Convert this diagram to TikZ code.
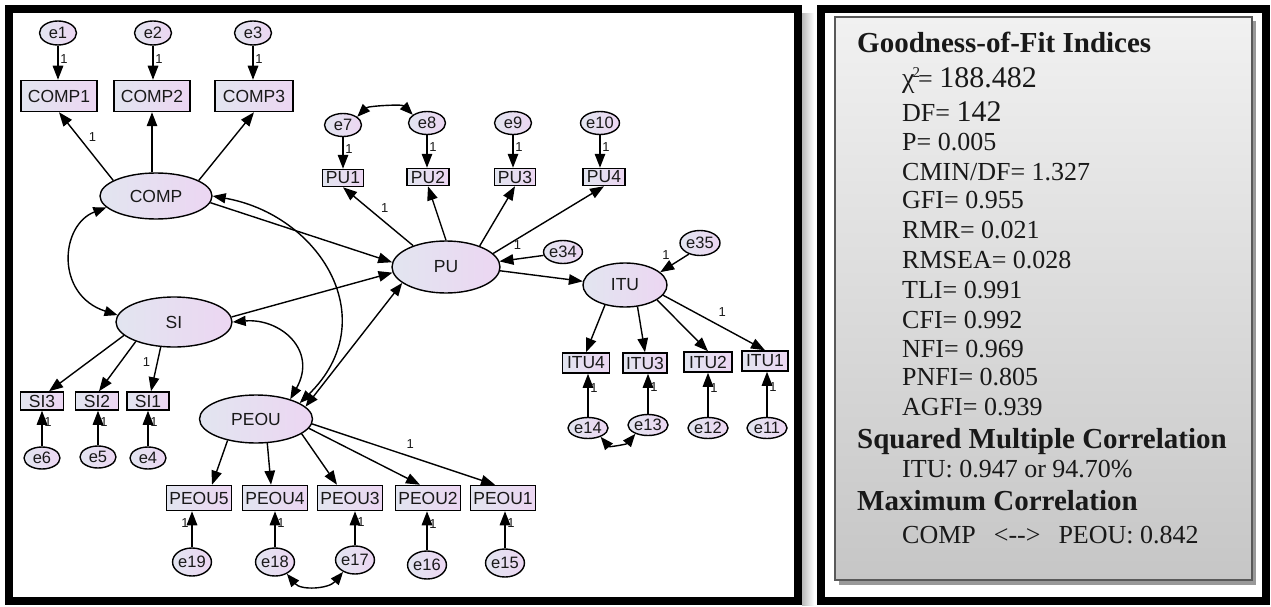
\documentclass[tikz,border=0pt]{standalone}
\usepackage{fontspec}
\setmainfont{Liberation Serif}
\setsansfont{Liberation Sans}
\usetikzlibrary{arrows.meta,shapes.geometric}
\newcommand\fsz[1]{\fontsize{#1}{#1}\selectfont}
\definecolor{latL}{RGB}{226,229,240}
\definecolor{latR}{RGB}{236,214,242}
\definecolor{txt}{RGB}{25,25,25}
\definecolor{boxtop}{RGB}{241,241,241}
\definecolor{boxbot}{RGB}{198,198,198}
\tikzset{
 lat/.style={ellipse, draw, line width=1.4pt, left color=latL, right color=latR, inner sep=0pt, font=\sffamily\fsz{17.5}, text=txt},
 obs/.style={rectangle, draw, line width=1.5pt, left color=latL, right color=latR, inner sep=0pt, font=\sffamily\fsz{17.5}, text=txt},
 err/.style={ellipse, draw, line width=1.4pt, left color=latL, right color=latR, inner sep=0pt, font=\sffamily\fsz{16.5}, text=txt},
 arr/.style={-{Triangle[length=14pt,width=10.5pt]}, line width=1.4pt},
 cov/.style={{Triangle[length=13pt,width=10pt]}-{Triangle[length=13pt,width=10pt]}, line width=1.4pt},
 lbl/.style={font=\sffamily\fsz{13}, inner sep=0pt, text=txt},
 fitln/.style={anchor=base west, inner sep=0pt, font=\fsz{26}, text=black!90},
 hdr/.style={anchor=base west, inner sep=0pt, font=\bfseries\fsz{29}, text=black!90},
}
\begin{document}
\begin{tikzpicture}[x=1pt,y=-1pt]
\useasboundingbox (0,0) rectangle (1271,607);
% panels
\shade[left color=gray!55, right color=white] (802,14) rectangle (814,605);
\draw[line width=8pt] (9,9) rectangle (798,601);
\fill[black!40] (839,21) rectangle (1256,585);
\draw[line width=1.5pt, draw=black!65, top color=boxtop, bottom color=boxbot] (835,17) rectangle (1252,580);
\draw[line width=8pt] (821,9) rectangle (1266,601);

% latent variables
\node[lat, minimum width=112pt, minimum height=46pt] (COMP) at (156,196) {COMP};
\node[lat, minimum width=116pt, minimum height=50pt] (SI) at (174,322) {SI};
\node[lat, minimum width=108pt, minimum height=52pt] (PU) at (446,267) {PU};
\node[lat, minimum width=113pt, minimum height=48pt] (PEOU) at (256,419) {PEOU};
\node[lat, minimum width=84pt, minimum height=44pt] (ITU) at (625,285) {ITU};

% observed variables
\node[obs, minimum width=76pt, minimum height=31pt] (COMP1) at (59,96) {COMP1};
\node[obs, minimum width=76pt, minimum height=31pt] (COMP2) at (152,96) {COMP2};
\node[obs, minimum width=78pt, minimum height=31pt] (COMP3) at (254,96) {COMP3};
\node[obs, minimum width=41pt, minimum height=17pt] (PU1) at (343,178) {PU1};
\node[obs, minimum width=42pt, minimum height=17pt] (PU2) at (428,177) {PU2};
\node[obs, minimum width=41pt, minimum height=17pt] (PU3) at (515,177) {PU3};
\node[obs, minimum width=42pt, minimum height=17pt] (PU4) at (604,177) {PU4};
\node[obs, minimum width=47pt, minimum height=20pt] (ITU4) at (586,363) {ITU4};
\node[obs, minimum width=44pt, minimum height=20pt] (ITU3) at (645,363) {ITU3};
\node[obs, minimum width=48pt, minimum height=20pt] (ITU2) at (708,362) {ITU2};
\node[obs, minimum width=46pt, minimum height=20pt] (ITU1) at (765,361) {ITU1};
\node[obs, minimum width=43pt, minimum height=18pt] (SI3) at (42,401) {SI3};
\node[obs, minimum width=43pt, minimum height=18pt] (SI2) at (97,401) {SI2};
\node[obs, minimum width=42pt, minimum height=18pt] (SI1) at (148,401) {SI1};
\node[obs, minimum width=65pt, minimum height=25pt] (PEOU5) at (199,498) {PEOU5};
\node[obs, minimum width=65pt, minimum height=25pt] (PEOU4) at (275,498) {PEOU4};
\node[obs, minimum width=65pt, minimum height=25pt] (PEOU3) at (350,498) {PEOU3};
\node[obs, minimum width=65pt, minimum height=25pt] (PEOU2) at (428,498) {PEOU2};
\node[obs, minimum width=65pt, minimum height=25pt] (PEOU1) at (503,498) {PEOU1};

% error terms
\node[err, minimum width=37pt, minimum height=24pt] (e1) at (58,33) {e1};
\node[err, minimum width=37pt, minimum height=24pt] (e2) at (153,33) {e2};
\node[err, minimum width=37pt, minimum height=24pt] (e3) at (253,33) {e3};
\node[err, minimum width=37pt, minimum height=23pt] (e7) at (343,125) {e7};
\node[err, minimum width=37pt, minimum height=23pt] (e8) at (427,123) {e8};
\node[err, minimum width=37pt, minimum height=23pt] (e9) at (513,123) {e9};
\node[err, minimum width=37pt, minimum height=23pt] (e10) at (600,123) {e10};
\node[err, minimum width=36pt, minimum height=23pt] (e34) at (563,252) {e34};
\node[err, minimum width=40pt, minimum height=25pt] (e35) at (700,243) {e35};
\node[err, minimum width=40pt, minimum height=21pt] (e14) at (588,428) {e14};
\node[err, minimum width=40pt, minimum height=21pt] (e13) at (648,425) {e13};
\node[err, minimum width=40pt, minimum height=21pt] (e12) at (708,428) {e12};
\node[err, minimum width=40pt, minimum height=21pt] (e11) at (767,428) {e11};
\node[err, minimum width=36pt, minimum height=22pt] (e6) at (42,458) {e6};
\node[err, minimum width=36pt, minimum height=22pt] (e5) at (98,457) {e5};
\node[err, minimum width=36pt, minimum height=22pt] (e4) at (148,458) {e4};
\node[err, minimum width=38pt, minimum height=28pt] (e19) at (192,562) {e19};
\node[err, minimum width=38pt, minimum height=28pt] (e18) at (275,562) {e18};
\node[err, minimum width=38pt, minimum height=28pt] (e17) at (355,560) {e17};
\node[err, minimum width=38pt, minimum height=28pt] (e16) at (427,565) {e16};
\node[err, minimum width=38pt, minimum height=28pt] (e15) at (505,563) {e15};

% COMP measurement
\draw[arr] (COMP.160) -- (COMP1.south) node[lbl,pos=0.63,xshift=13.5pt] (lc1) {1};
\draw[arr] (COMP2.south |- COMP.north) -- (COMP2.south);
\draw[arr] (COMP.20) -- (COMP3.south);
\draw[arr] (e1.south) -- (e1.south |- COMP1.north) node[lbl,pos=0.4,xshift=6pt] (le1) {1};
\draw[arr] (e2.south) -- (e2.south |- COMP2.north) node[lbl,pos=0.4,xshift=6pt] (le2) {1};
\draw[arr] (e3.south) -- (e3.south |- COMP3.north) node[lbl,pos=0.4,xshift=6pt] (le3) {1};

% PU measurement
\draw[arr] (PU.147) -- (PU1.south) node[lbl,pos=0.64,xshift=16.5pt] (lp1) {1};
\draw[arr] (PU.north) -- (PU2.south);
\draw[arr] (PU.32) -- (PU3.south);
\draw[arr] (PU.16) -- (PU4.south);
\draw[arr] (e7.south) -- (e7.south |- PU1.north) node[lbl,pos=0.36,xshift=6pt] (le7) {1};
\draw[arr] (e8.south) -- (e8.south |- PU2.north) node[lbl,pos=0.36,xshift=6pt] (le8) {1};
\draw[arr] (e9.south) -- (e9.south |- PU3.north) node[lbl,pos=0.36,xshift=6pt] (le9) {1};
\draw[arr] (e10.south) -- (e10.south |- PU4.north) node[lbl,pos=0.36,xshift=6pt] (le10) {1};
\draw[cov] (e7.30) to[out=45,in=135,looseness=0.7] (e8.150);
\draw[arr] (e34.190) -- (PU.6) node[lbl,pos=0.59,yshift=13.8pt] (l34) {1};

% ITU
\draw[arr] (PU.-4) -- (ITU.175);
\draw[arr] (e35.225) -- (ITU.20) node[lbl,pos=0.8,yshift=14pt] (l35) {1};
\draw[arr] (ITU.-135) -- (ITU4.north);
\draw[arr] (ITU.-60) -- (ITU3.north);
\draw[arr] (ITU.-25) -- (ITU2.north);
\draw[arr] (ITU.-15) -- (ITU1.north) node[lbl,pos=0.58,yshift=15.5pt] (li1) {1};
\draw[arr] (e14.north) -- (e14.north |- ITU4.south) node[lbl,pos=0.66,xshift=6pt] (le14) {1};
\draw[arr] (e13.north) -- (e13.north |- ITU3.south) node[lbl,pos=0.66,xshift=6pt] (le13) {1};
\draw[arr] (e12.north) -- (e12.north |- ITU2.south) node[lbl,pos=0.66,xshift=6pt] (le12) {1};
\draw[arr] (e11.north) -- (e11.north |- ITU1.south) node[lbl,pos=0.66,xshift=6pt] (le11) {1};
\draw[cov] (e14.-35) to[out=-50,in=-130] (e13.-145);

% SI measurement
\draw[arr] (SI.195) -- ([xshift=7pt]SI3.north);
\draw[arr] (SI.207) -- ([xshift=2pt]SI2.north);
\draw[arr] (SI.-118) -- ([xshift=3pt]SI1.north) node[lbl,pos=0.34,xshift=-11pt] (ls1) {1};
\draw[arr] (e6.north) -- (e6.north |- SI3.south) node[lbl,pos=0.68,xshift=6pt] (le6) {1};
\draw[arr] (e5.north) -- (e5.north |- SI2.south) node[lbl,pos=0.68,xshift=6pt] (le5) {1};
\draw[arr] (e4.north) -- (e4.north |- SI1.south) node[lbl,pos=0.68,xshift=6pt] (le4) {1};

% PEOU measurement
\draw[arr] (PEOU.-143) -- ([xshift=13pt]PEOU5.north);
\draw[arr] (PEOU.-65) -- ([xshift=-4pt]PEOU4.north);
\draw[arr] (PEOU.-18) -- ([xshift=-13pt]PEOU3.north);
\draw[arr] (PEOU.-10) -- ([xshift=-8pt]PEOU2.north);
\draw[arr] (PEOU.-5) -- ([xshift=-8pt]PEOU1.north) node[lbl,pos=0.536,yshift=12pt] (lpe1) {1};
\draw[arr] (e19.north) -- (e19.north |- PEOU5.south) node[lbl,pos=0.68,xshift=-7pt] (le19) {1};
\draw[arr] (e18.north) -- (e18.north |- PEOU4.south) node[lbl,pos=0.68,xshift=6pt] (le18) {1};
\draw[arr] (e17.north) -- (e17.north |- PEOU3.south) node[lbl,pos=0.68,xshift=6pt] (le17) {1};
\draw[arr] (e16.north) -- (e16.north |- PEOU2.south) node[lbl,pos=0.68,xshift=6pt] (le16) {1};
\draw[arr] (e15.north) -- (e15.north |- PEOU1.south) node[lbl,pos=0.68,xshift=6pt] (le15) {1};
\draw[cov] (e18.-45) to[out=-50,in=-130] (e17.-135);

% structural part
\draw[arr] (COMP.-7) -- (PU.175);
\draw[arr] (SI.5) -- (PU.186);
\draw[cov] (PEOU.14) -- (PU.200);
\draw[cov] (COMP.193) .. controls (60,225) and (55,295) .. (SI.173);
\draw[cov] (COMP.east) .. controls (320,215) and (385,320) .. (PEOU.20);
\draw[cov] (SI.east) .. controls (280,318) and (318,350) .. (PEOU.30);

% fit indices
\node[hdr] (g1) at (857,53) {Goodness-of-Fit Indices};
\node[fitln] (g2) at (902,88) {{\fsz{28}χ}\kern-2pt\raisebox{10pt}{\fsz{15}2}\kern-2pt= {\fsz{30}188.482}};
\node[fitln] (g3) at (902,122) {DF= {\fsz{30}142}};
\node[fitln] (g4) at (902,150) {P= 0.005};
\node[fitln] (g5) at (902,180) {CMIN/DF= 1.327};
\node[fitln] (g6) at (902,208) {GFI= 0.955};
\node[fitln] (g7) at (902,238) {RMR= 0.021};
\node[fitln] (g8) at (902,268) {RMSEA= 0.028};
\node[fitln] (g9) at (902,298) {TLI= 0.991};
\node[fitln] (g10) at (902,328) {CFI= 0.992};
\node[fitln] (g11) at (902,357) {NFI= 0.969};
\node[fitln] (g12) at (902,385) {PNFI= 0.805};
\node[fitln] (g13) at (902,415) {AGFI= 0.939};
\node[hdr] (g14) at (857,448) {Squared Multiple Correlation};
\node[fitln] (g15) at (902,477) {ITU: 0.947 or 94.70\%};
\node[hdr] (g16) at (857,510) {Maximum Correlation};
\node[fitln] (g17) at (902,543) {COMP\hspace{18pt}<-{}->\hspace{18pt}PEOU: 0.842};
\end{tikzpicture}
\end{document}
